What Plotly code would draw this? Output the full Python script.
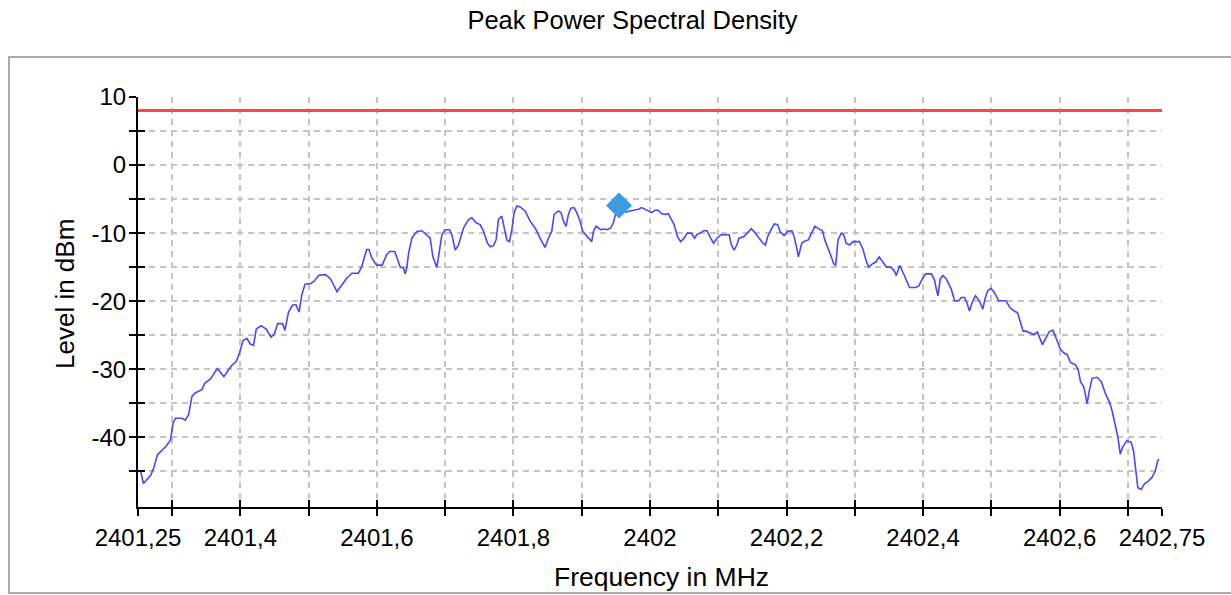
import plotly.graph_objects as go

# ---- data (MHz, dBm) ----
freq_a = [2401.2517, 2401.2541, 2401.258, 2401.2638, 2401.2686, 2401.2734, 2401.2783, 2401.2855, 2401.2928, 2401.2976,
          2401.3014, 2401.3048, 2401.3145, 2401.3193, 2401.3242, 2401.329, 2401.3338, 2401.3435, 2401.3483, 2401.3556,
          2401.3604, 2401.3662, 2401.371, 2401.3758, 2401.3821, 2401.387, 2401.3942, 2401.399, 2401.4039, 2401.4097,
          2401.4145, 2401.4193, 2401.4232, 2401.4304, 2401.4377, 2401.4449, 2401.4498, 2401.4546, 2401.4618, 2401.4652,
          2401.4705, 2401.4763, 2401.4812, 2401.486, 2401.4899, 2401.4947, 2401.5029, 2401.5077, 2401.515, 2401.5246,
          2401.5319, 2401.5415, 2401.5488, 2401.556, 2401.5633, 2401.5729, 2401.5778, 2401.585, 2401.5884, 2401.5923,
          2401.5995, 2401.6077, 2401.614, 2401.6188, 2401.6261]
level_a = [-44.85, -45.1, -46.8, -46.1, -45.6, -44.4, -42.6, -41.9, -41.1, -40.4,
           -37.9, -37.2, -37.2, -37.5, -36.7, -34.0, -33.5, -33.0, -32.0, -31.5,
           -30.7, -29.9, -30.5, -31.1, -30.2, -29.5, -28.8, -27.5, -25.8, -25.5,
           -26.3, -26.5, -24.1, -23.6, -24.1, -25.3, -24.8, -23.3, -23.3, -24.3,
           -21.6, -20.6, -20.5, -21.6, -19.1, -17.5, -17.4, -17.1, -16.2, -16.1,
           -16.7, -18.6, -17.6, -16.6, -15.9, -15.9, -14.9, -12.4, -12.4, -13.6,
           -14.7, -14.7, -13.2, -12.7, -12.7]

freq_b = [2401.6341, 2401.639, 2401.6415, 2401.6439, 2401.6463, 2401.6512, 2401.6585, 2401.6659, 2401.6732, 2401.678,
          2401.682, 2401.6854, 2401.6878, 2401.6902, 2401.6951, 2401.7, 2401.7063, 2401.7098, 2401.7146, 2401.7195,
          2401.7268, 2401.7341, 2401.739, 2401.7454, 2401.7512, 2401.7561, 2401.762, 2401.7659, 2401.7707, 2401.7746,
          2401.778, 2401.7829, 2401.7863, 2401.7902, 2401.7941, 2401.7976, 2401.801, 2401.8049, 2401.8098, 2401.8171,
          2401.8244, 2401.8317, 2401.839, 2401.8463, 2401.8512, 2401.8561, 2401.8595, 2401.8659, 2401.8698, 2401.8732,
          2401.8771, 2401.8805, 2401.8839, 2401.8888, 2401.8927, 2401.8976, 2401.9015, 2401.9063, 2401.9098, 2401.9146,
          2401.9171, 2401.921, 2401.9244, 2401.9278, 2401.9327, 2401.9376, 2401.9424, 2401.9463, 2401.9488, 2401.9546,
          2401.9585, 2401.9659, 2401.9707, 2401.978, 2401.9829, 2401.9878, 2401.9927, 2401.9976, 2402.0024, 2402.0073,
          2402.0122, 2402.0171, 2402.022, 2402.0268]
level_b = [-15.0, -15.15, -16.0, -15.0, -13.0, -10.75, -9.75, -9.65, -10.25, -10.75,
           -13.5, -14.5, -15.0, -13.5, -10.25, -9.5, -9.5, -10.25, -12.5, -11.75,
           -9.25, -8.0, -7.75, -8.5, -8.75, -9.75, -11.5, -12.0, -11.85, -11.0,
           -8.0, -7.5, -9.25, -11.0, -11.25, -9.5, -7.0, -6.0, -6.15, -6.75,
           -8.25, -9.25, -10.75, -12.1, -10.75, -9.75, -7.25, -6.75, -7.0, -8.25,
           -9.0, -7.25, -6.35, -6.25, -7.0, -8.25, -9.75, -10.25, -10.75, -11.25,
           -9.75, -9.0, -9.25, -9.5, -9.4, -9.5, -9.25, -8.5, -7.5, -5.95,
           -6.75, -6.9, -6.75, -6.65, -6.5, -6.25, -6.5, -6.75, -7.0, -6.65,
           -6.65, -7.15, -7.25, -7.15]

freq_c = [2402.0353, 2402.0401, 2402.0449, 2402.0498, 2402.0546, 2402.0604, 2402.0652, 2402.0691, 2402.0739, 2402.0787,
          2402.0836, 2402.0884, 2402.0932, 2402.0981, 2402.1039, 2402.1111, 2402.1159, 2402.1193, 2402.1232, 2402.1271,
          2402.1304, 2402.1377, 2402.1435, 2402.1483, 2402.1531, 2402.1594, 2402.1643, 2402.1691, 2402.1725, 2402.1773,
          2402.1821, 2402.187, 2402.1908, 2402.1966, 2402.2014, 2402.2077, 2402.2111, 2402.215, 2402.2174, 2402.2222,
          2402.2271, 2402.2319, 2402.2367, 2402.2415, 2402.2464, 2402.2527, 2402.256, 2402.2609, 2402.2657, 2402.2691,
          2402.272, 2402.2754, 2402.2802, 2402.2836, 2402.2874, 2402.2923, 2402.2971, 2402.3068, 2402.3116, 2402.3164,
          2402.3203, 2402.3261, 2402.3309, 2402.3357, 2402.3406, 2402.3464, 2402.3527, 2402.3575, 2402.3609, 2402.3657,
          2402.3705, 2402.3754, 2402.3802, 2402.3889, 2402.3937]
level_c = [-8.75, -10.5, -11.25, -10.75, -10.0, -10.0, -10.75, -10.15, -10.0, -9.65,
           -9.65, -10.65, -11.5, -10.75, -10.25, -10.25, -10.25, -11.75, -12.5, -11.75,
           -10.75, -10.5, -9.85, -9.35, -9.85, -10.75, -11.35, -11.75, -10.5, -9.5,
           -8.65, -8.75, -9.85, -10.35, -9.75, -9.65, -10.5, -12.25, -13.5, -11.5,
           -11.15, -11.0, -10.0, -9.0, -9.35, -9.65, -11.0, -12.15, -13.5, -14.5,
           -14.75, -11.0, -10.0, -10.25, -11.5, -11.75, -11.25, -11.25, -12.25, -14.0,
           -15.0, -14.5, -14.25, -13.5, -14.25, -15.0, -15.0, -15.5, -16.25, -14.75,
           -15.75, -17.0, -18.0, -18.0, -17.75]

freq_d = [2402.399, 2402.4039, 2402.4121, 2402.417, 2402.4194, 2402.4218, 2402.4252, 2402.4291, 2402.434, 2402.4413,
          2402.4461, 2402.4524, 2402.4558, 2402.4607, 2402.4641, 2402.468, 2402.4718, 2402.4767, 2402.4825, 2402.4874,
          2402.4913, 2402.4947, 2402.4995, 2402.5044, 2402.5107, 2402.5214, 2402.5272, 2402.5335, 2402.5383, 2402.5432,
          2402.5466, 2402.5505, 2402.5578, 2402.5626, 2402.5675, 2402.5709, 2402.5748, 2402.5786, 2402.5845, 2402.5903,
          2402.5942, 2402.5981, 2402.6015, 2402.6063, 2402.6112, 2402.616, 2402.6233, 2402.6272, 2402.6306, 2402.6354,
          2402.6379, 2402.6403, 2402.6437, 2402.6476, 2402.6549, 2402.6612, 2402.667, 2402.6728, 2402.6767, 2402.6816,
          2402.6854, 2402.6888, 2402.6922, 2402.6985, 2402.7049, 2402.7083, 2402.7117, 2402.7146, 2402.7194, 2402.7243,
          2402.7301, 2402.735, 2402.7398, 2402.7437, 2402.7456]
level_d = [-16.73, -15.99, -15.99, -16.98, -18.22, -19.21, -16.73, -16.24, -16.73, -18.22,
           -19.95, -19.95, -19.46, -19.46, -20.2, -21.44, -20.2, -19.21, -19.95, -21.19,
           -19.46, -18.47, -18.12, -18.71, -19.95, -19.95, -20.94, -21.44, -21.68, -23.42,
           -24.41, -24.41, -24.65, -24.9, -24.55, -25.4, -26.39, -25.64, -24.55, -24.26,
           -25.25, -26.39, -27.13, -27.62, -27.87, -29.01, -29.36, -30.1, -31.83, -32.57,
           -33.81, -35.05, -33.07, -31.34, -31.19, -31.83, -33.56, -34.8, -36.04, -38.27,
           -40.0, -42.48, -41.49, -40.5, -40.74, -41.98, -45.2, -47.43, -47.67, -46.83,
           -46.44, -45.94, -45.05, -43.47, -43.22]

limit_freq = [2401.25, 2402.75]
limit_level = [8, 8]

peak_freq = [2401.9546]
peak_level = [-5.95]

x_tickvals = [2401.25, 2401.3, 2401.4, 2401.5, 2401.6, 2401.7, 2401.8, 2401.9, 2402.0,
              2402.1, 2402.2, 2402.3, 2402.4, 2402.5, 2402.6, 2402.7, 2402.75]
x_ticktext = ["2401,25", "", "2401,4", "", "2401,6", "", "2401,8", "", "2402",
              "", "2402,2", "", "2402,4", "", "2402,6", "", "2402,75"]
y_tickvals = [-45, -40, -35, -30, -25, -20, -15, -10, -5, 0, 5, 10]
y_ticktext = ["", "-40", "", "-30", "", "-20", "", "-10", "", "0", "", "10"]

x_range = [2401.25, 2402.75]
y_range = [-50.25, 10]

freq = freq_a + freq_b + freq_c + freq_d
level = level_a + level_b + level_c + level_d

FONT = "Liberation Sans, Arial, sans-serif"

W, H = 1231, 595
PL, PT, PW, PH = 138, 97, 1024, 410

fig = go.Figure()
fig.add_trace(go.Scatter(x=freq, y=level, mode="lines",
                         line=dict(color="#4848ff", width=1.6), hoverinfo="skip"))
fig.add_trace(go.Scatter(x=limit_freq, y=limit_level, mode="lines", xaxis="x2", yaxis="y2",
                         line=dict(color="#ff4545", width=3), hoverinfo="skip"))
fig.add_trace(go.Scatter(x=peak_freq, y=peak_level, mode="markers",
                         marker=dict(symbol="diamond", size=20, color="#3d9be0"), hoverinfo="skip"))

grid = dict(showgrid=True, gridcolor="#c4c4c4", gridwidth=1.5, griddash="6px,5px")
axfont = dict(family=FONT, size=24, color="#000000")

fig.update_layout(
    width=W, height=H,
    margin=dict(l=PL, r=W - PL - PW, t=PT, b=H - PT - PH, pad=0),
    paper_bgcolor="white", plot_bgcolor="white",
    showlegend=False,
    title=dict(text="Peak Power Spectral Density", x=632.5 / W, xref="container", xanchor="center",
               y=1 - 20 / H, yref="container", yanchor="middle",
               font=dict(family=FONT, size=25.5, color="#000000")),
    xaxis=dict(range=x_range, tickmode="array", tickvals=x_tickvals, ticktext=x_ticktext,
               ticks="outside", ticklen=7, tickwidth=2, tickcolor="#000000",
               showline=True, linecolor="#000000", linewidth=2, zeroline=False,
               tickfont=axfont, ticklabelstandoff=1, **grid),
    yaxis=dict(range=y_range, tickmode="array", tickvals=y_tickvals, ticktext=y_ticktext,
               ticks="outside", ticklen=7, tickwidth=2, tickcolor="#000000",
               showline=True, linecolor="#000000", linewidth=2, zeroline=False,
               tickfont=axfont, ticklabelstandoff=-2, **grid),
    xaxis2=dict(range=x_range, overlaying="x", side="bottom", tickmode="array", tickvals=x_tickvals,
                ticks="inside", ticklen=7, tickwidth=2, tickcolor="#000000", showticklabels=False,
                showgrid=False, zeroline=False, showline=False),
    yaxis2=dict(range=y_range, overlaying="y", side="left", tickmode="array", tickvals=y_tickvals,
                ticks="inside", ticklen=7, tickwidth=2, tickcolor="#000000", showticklabels=False,
                showgrid=False, zeroline=False, showline=False),
)

# axis titles positioned as in the reference
fig.add_annotation(text="Level in dBm", textangle=-90, xref="paper", yref="paper",
                   x=(65 - PL) / PW, y=(PT + PH - 294) / PH, xanchor="center", yanchor="middle",
                   showarrow=False, font=dict(family=FONT, size=26, color="#000000"))
fig.add_annotation(text="Frequency in MHz", xref="paper", yref="paper",
                   x=(661 - PL) / PW, y=(PT + PH - 577) / PH, xanchor="center", yanchor="middle",
                   showarrow=False, font=dict(family=FONT, size=26.5, color="#000000"))

# outer frame
fig.add_shape(type="rect", xref="paper", yref="paper",
              x0=(9 - PL) / PW, x1=(1240 - PL) / PW, y0=(PT + PH - 593) / PH, y1=(PT + PH - 57) / PH,
              line=dict(color="#ababab", width=2), fillcolor="rgba(0,0,0,0)", layer="below")

# remove the default page margin so the figure sits at the window origin; hide the modebar
fig.write_html("out.html", config={"displayModeBar": False},
               post_script="document.body.style.margin='0';")
